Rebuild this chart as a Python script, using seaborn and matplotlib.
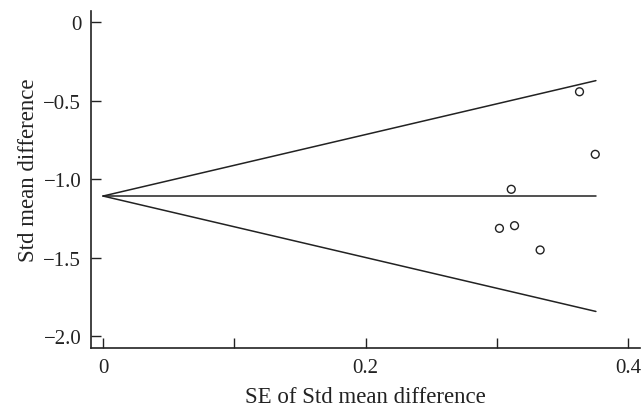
import pandas as pd
import matplotlib
matplotlib.use("Agg")
import matplotlib.pyplot as plt
import seaborn as sns

# study points (SE, std mean difference)
se_values = [0.363, 0.375, 0.311, 0.302, 0.3135, 0.333]
smd_values = [-0.443, -0.842, -1.065, -1.314, -1.297, -1.452]

# funnel: pooled estimate and 95% limits at the largest SE
funnel_se = [0.0, 0.3755]
funnel_mid = [-1.108, -1.108]
funnel_upper = [-1.108, -0.372]
funnel_lower = [-1.108, -1.844]

x_ticks = [0, 0.1, 0.2, 0.3, 0.4]
x_tick_labels = ["0", "", "0.2", "", "0.4"]
y_ticks = [0, -0.5, -1.0, -1.5, -2.0]
y_tick_labels = ["0", "\u22120.5", "\u22121.0", "\u22121.5", "\u22122.0"]


def main():
    sns.set_theme(style="ticks")
    plt.rcParams['font.family'] = ['Liberation Serif', 'DejaVu Serif']
    plt.rcParams['axes.unicode_minus'] = True

    fig = plt.figure(figsize=(6.42, 4.10), dpi=100)
    ax = fig.add_axes([0.1417, 0.1488, 0.855, 0.8227])

    lines = pd.DataFrame({
        'se': funnel_se * 3,
        'smd': funnel_mid + funnel_upper + funnel_lower,
        'which': ['mid'] * 2 + ['upper'] * 2 + ['lower'] * 2,
    })
    sns.lineplot(data=lines, x='se', y='smd', units='which', estimator=None,
                 color='#222222', linewidth=1.1, ax=ax)

    pts = pd.DataFrame({'se': se_values, 'smd': smd_values})
    sns.scatterplot(data=pts, x='se', y='smd', ax=ax, s=32,
                    facecolor='none', edgecolor='#222222', linewidth=1.0,
                    zorder=3)

    ax.set_xlim(-0.0092, 0.409)
    ax.set_ylim(-2.077, 0.074)
    ax.set_xticks(x_ticks)
    ax.set_xticklabels(x_tick_labels)
    ax.set_yticks(y_ticks)
    ax.set_yticklabels(y_tick_labels)
    ax.tick_params(direction='in', length=7, width=1.0, labelsize=15,
                   colors='#222222', pad=7)

    ax.spines['top'].set_visible(False)
    ax.spines['right'].set_visible(False)
    for s in ['left', 'bottom']:
        ax.spines[s].set_linewidth(1.2)
        ax.spines[s].set_color('#222222')

    ax.set_xlabel('SE of Std mean difference', fontsize=16.5, color='#222222', labelpad=7)
    ax.set_ylabel('Std mean difference', fontsize=16.5, color='#222222', labelpad=3)
    ax.yaxis.label.set_y(0.53)

    fig.savefig('out.png', dpi=100)
    plt.close(fig)


if __name__ == "__main__":
    main()
